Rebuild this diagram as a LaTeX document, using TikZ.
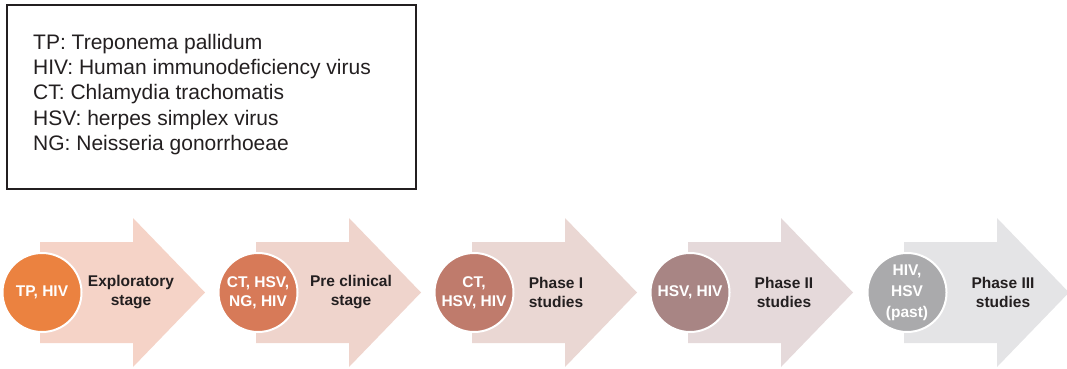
\documentclass[tikz,border=0pt]{standalone}
\usepackage{fontspec}
\setmainfont{Liberation Sans}
\definecolor{inkdark}{HTML}{231F20}
\definecolor{arrowA}{HTML}{F5D3C7}
\definecolor{arrowB}{HTML}{EFD4CC}
\definecolor{arrowC}{HTML}{EAD7D3}
\definecolor{arrowD}{HTML}{E5D9DA}
\definecolor{arrowE}{HTML}{E4E4E6}
\definecolor{dotA}{HTML}{EB8240}
\definecolor{dotB}{HTML}{D77A58}
\definecolor{dotC}{HTML}{BF7B6C}
\definecolor{dotD}{HTML}{A88584}
\definecolor{dotE}{HTML}{AAAAAC}
\begin{document}
\begin{tikzpicture}[x=1pt,y=-1pt,
  stagearrow/.pic={
    \fill[pic actions] (0,242) -- (93,242) -- (93,218) -- (165,292.5)
      -- (93,367) -- (93,343) -- (0,343) -- cycle;},
  agent/.style={circle, draw=white, line width=2pt, minimum size=79pt,
    inner sep=0pt, text=white, align=center,
    font=\fontsize{15.5}{19}\selectfont\bfseries},
  stagelabel/.style={text=inkdark, align=center,
    font=\fontsize{15.5}{19}\selectfont\bfseries},
  legendbox/.style={draw=inkdark, line width=1.6pt, minimum width=409pt,
    minimum height=184pt, inner sep=0pt},
  legendtext/.style={text=inkdark, align=left, anchor=west, inner sep=0pt,
    font=\fontsize{21}{25.3}\selectfont}]
\useasboundingbox (0,0) rectangle (1067,369);

% abbreviation legend
\node[legendbox] (legend) at (211.5,97) {};
\node[legendtext] (legendlist) at (33,94.5) {TP: Treponema pallidum\\
  HIV: Human immunodeficiency virus\\
  CT: Chlamydia trachomatis\\
  HSV: herpes simplex virus\\
  NG: Neisseria gonorrhoeae};

% stage arrows
\pic[fill=arrowA] at (40,0) {stagearrow};
\pic[fill=arrowB] at (256,0) {stagearrow};
\pic[fill=arrowC] at (472,0) {stagearrow};
\pic[fill=arrowD] at (688,0) {stagearrow};
\pic[fill=arrowE] at (904,0) {stagearrow};

% pathogens studied at each stage
\node[agent, fill=dotA] (tp) at (42,292.5) {TP, HIV};
\node[agent, fill=dotB] (ct) at (258,292.5) {CT, HSV,\\NG, HIV};
\node[agent, fill=dotC] (p1) at (474,292.5) {CT,\\HSV, HIV};
\node[agent, fill=dotD] (p2) at (690,292.5) {HSV, HIV};
\node[agent, fill=dotE, font=\fontsize{15.5}{21}\selectfont\bfseries]
  (p3) at (907,292.5) {HIV,\\HSV\\(past)};

% stage names
\node[stagelabel] (explo) at (131,292.5) {Exploratory\\stage};
\node[stagelabel] (precl) at (351,292.5) {Pre clinical\\stage};
\node[stagelabel] (ph1) at (556,292.5) {Phase I\\studies};
\node[stagelabel] (ph2) at (784,292.5) {Phase II\\studies};
\node[stagelabel] (ph3) at (1003,292.5) {Phase III\\studies};
\end{tikzpicture}
\end{document}
